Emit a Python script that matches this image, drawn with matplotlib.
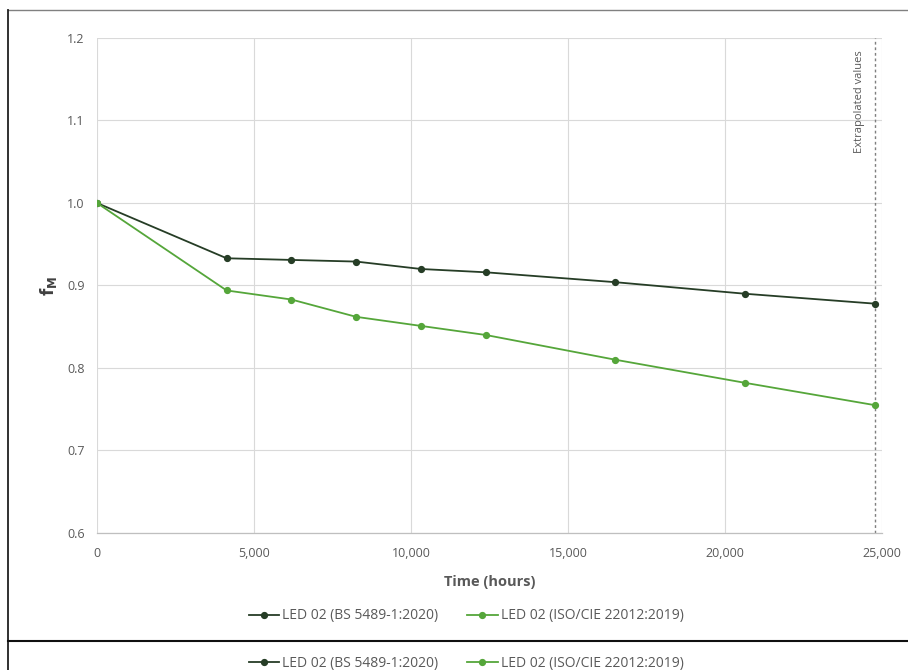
"""
LED 02 lumen maintenance factor over time, BS 5489-1:2020 vs ISO/CIE 22012:2019.

Output
------
    out.png
"""

import matplotlib
matplotlib.use("Agg")
import matplotlib.pyplot as plt
from matplotlib.lines import Line2D
from matplotlib.ticker import FuncFormatter, MultipleLocator

plt.rcParams["font.family"] = ["Open Sans", "DejaVu Sans"]

# Data
HOURS = [0, 4128, 6192, 8256, 10320, 12384, 16512, 20640, 24768]
FM_BS = [1.000, 0.933, 0.931, 0.929, 0.920, 0.916, 0.904, 0.890, 0.878]
FM_ISO = [1.000, 0.894, 0.883, 0.862, 0.851, 0.840, 0.810, 0.782, 0.755]
LABEL_BS = "LED 02 (BS 5489-1:2020)"
LABEL_ISO = "LED 02 (ISO/CIE 22012:2019)"
EXTRAP_AT = 24768
EXTRAP_TEXT = "Extrapolated values"

DARK = "#263d26"
GREEN = "#55a63a"
GRID = "#d9d9d9"
TEXT = "#595959"

W, H = 908, 670
fig = plt.figure(figsize=(W / 100, H / 100), dpi=100)
ax = fig.add_axes([97 / W, 1 - 533 / H, (882 - 97) / W, (533 - 38) / H])

ax.plot(HOURS, FM_BS, color=DARK, marker="o", markersize=4.2,
        linewidth=1.3, label=LABEL_BS, zorder=3)
ax.plot(HOURS, FM_ISO, color=GREEN, marker="o", markersize=4.2,
        linewidth=1.3, label=LABEL_ISO, zorder=3)

ax.axvline(EXTRAP_AT, color="#7f7f7f", linewidth=1.0,
           linestyle=(0, (2, 2)), zorder=2)
ax.text(EXTRAP_AT - 300, 1.185, EXTRAP_TEXT, rotation=90, ha="right",
        va="top", fontsize=8, color=TEXT)

ax.set_xlim(0, 25000)
ax.set_ylim(0.6, 1.2)
ax.xaxis.set_major_locator(MultipleLocator(5000))
ax.yaxis.set_major_locator(MultipleLocator(0.1))
ax.xaxis.set_major_formatter(FuncFormatter(lambda v, p: f"{v:,.0f}"))
ax.yaxis.set_major_formatter(FuncFormatter(lambda v, p: f"{v:.1f}"))
ax.grid(True, color=GRID, linewidth=0.8, zorder=0)
ax.set_axisbelow(True)

for side in ["top", "right", "left"]:
    ax.spines[side].set_visible(False)
ax.spines["bottom"].set_color("#bfbfbf")
ax.spines["bottom"].set_linewidth(0.9)

ax.tick_params(axis="both", length=0, labelsize=9, labelcolor=TEXT)
ax.tick_params(axis="y", pad=9)
ax.tick_params(axis="x", pad=10)

ax.set_xlabel("Time (hours)", fontsize=10.5, fontweight="bold", color=TEXT,
              labelpad=11)
ax.set_ylabel(r"$\mathbf{f_M}$", fontsize=12, color="#404040", labelpad=6)

handles, labels = ax.get_legend_handles_labels()
for y in [1 - 616 / H, 1 - 663 / H]:
    fig.legend(handles, labels, loc="center", bbox_to_anchor=(466 / W, y),
               ncol=2, frameon=False, fontsize=10, labelcolor=TEXT,
               handlelength=2.2, handletextpad=0.2, columnspacing=2.1,
               markerscale=1.0)

# Outer frame of the screenshot
fig.add_artist(Line2D([8 / W, 1], [1 - 10 / H, 1 - 10 / H],
                      color="#808080", linewidth=1.0))
fig.add_artist(Line2D([8 / W, 8 / W], [0, 1 - 10 / H],
                      color="#202020", linewidth=1.3))
fig.add_artist(Line2D([8 / W, 1], [1 - 641 / H, 1 - 641 / H],
                      color="#101010", linewidth=1.5))

plt.savefig("out.png", dpi=100)
plt.close()
